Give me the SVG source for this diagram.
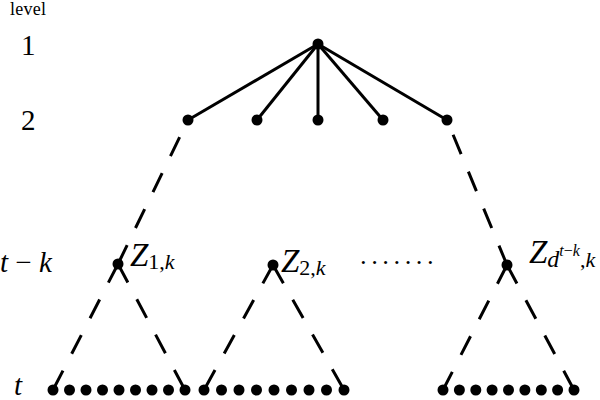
<svg xmlns="http://www.w3.org/2000/svg" width="600" height="400" viewBox="0 0 600 400">
<style>
.s{stroke:#000;stroke-width:3;fill:none}
.d{stroke:#000;stroke-width:3;fill:none;stroke-dasharray:21 19}
.n{fill:#000}
.t{font-family:"Liberation Serif","Times New Roman",serif;fill:#000}
.i{font-style:italic}
</style>
<rect width="600" height="400" fill="#fff"/>
<g id="labels" class="t">
<text x="10" y="15" font-size="18" textLength="36">level</text>
<text x="21" y="55" font-size="29">1</text>
<text x="21" y="130" font-size="29">2</text>
<text x="0" y="272" font-size="29"><tspan class="i">t</tspan> − <tspan class="i">k</tspan></text>
<text x="14" y="395" font-size="29" class="i">t</text>
<text x="359" y="271" font-size="26" letter-spacing="2.5">·······</text>
</g>
<g id="connectors">
<line class="s" x1="318" y1="44" x2="188" y2="120"/>
<line class="s" x1="318" y1="44" x2="257" y2="120"/>
<line class="s" x1="318" y1="44" x2="318" y2="120"/>
<line class="s" x1="318" y1="44" x2="383" y2="120"/>
<line class="s" x1="318" y1="44" x2="447" y2="120"/>
<line class="d" x1="118" y1="264" x2="188" y2="120"/>
<line class="d" x1="507" y1="265" x2="447" y2="120"/>
<line class="d" x1="118" y1="264" x2="53" y2="390"/>
<line class="d" x1="118" y1="264" x2="185" y2="390"/>
<line class="d" x1="273" y1="265" x2="204" y2="390"/>
<line class="d" x1="273" y1="265" x2="344" y2="390"/>
<line class="d" x1="507" y1="265" x2="443" y2="390"/>
<line class="d" x1="507" y1="265" x2="574" y2="390"/>
</g>
<g id="root"><circle class="n" cx="318" cy="44" r="5.5"/></g>
<g id="level2">
<circle class="n" cx="188" cy="120" r="5.5"/>
<circle class="n" cx="257" cy="120" r="5.5"/>
<circle class="n" cx="318" cy="120" r="5.5"/>
<circle class="n" cx="383" cy="120" r="5.5"/>
<circle class="n" cx="447" cy="120" r="5.5"/>
</g>
<g id="z1">
<circle class="n" cx="118" cy="264" r="5.5"/>
<text class="t" x="130" y="266" font-size="33"><tspan class="i">Z</tspan><tspan font-size="22" dy="3">1,</tspan><tspan font-size="22" class="i">k</tspan></text>
</g>
<g id="z2">
<circle class="n" cx="273" cy="265" r="5.5"/>
<text class="t" x="281" y="272" font-size="33"><tspan class="i">Z</tspan><tspan font-size="22" dy="3">2,</tspan><tspan font-size="22" class="i">k</tspan></text>
</g>
<g id="zd">
<circle class="n" cx="507" cy="265" r="5.5"/>
<text class="t" x="529" y="263" font-size="33"><tspan class="i">Z</tspan><tspan font-size="24" dy="4" class="i">d</tspan><tspan font-size="16" dy="-11" class="i">t</tspan><tspan font-size="16">−</tspan><tspan font-size="16" class="i">k</tspan><tspan font-size="22" dy="11">,</tspan><tspan font-size="22" class="i">k</tspan></text>
</g>
<g id="leaves1">
<circle class="n" cx="53" cy="390" r="5.5"/><circle class="n" cx="69.5" cy="390" r="5.5"/><circle class="n" cx="86" cy="390" r="5.5"/><circle class="n" cx="102.5" cy="390" r="5.5"/><circle class="n" cx="119" cy="390" r="5.5"/><circle class="n" cx="135.5" cy="390" r="5.5"/><circle class="n" cx="152" cy="390" r="5.5"/><circle class="n" cx="168.5" cy="390" r="5.5"/><circle class="n" cx="185" cy="390" r="5.5"/>
</g>
<g id="leaves2">
<circle class="n" cx="204" cy="390" r="5.5"/><circle class="n" cx="221.5" cy="390" r="5.5"/><circle class="n" cx="239" cy="390" r="5.5"/><circle class="n" cx="256.5" cy="390" r="5.5"/><circle class="n" cx="274" cy="390" r="5.5"/><circle class="n" cx="291.5" cy="390" r="5.5"/><circle class="n" cx="309" cy="390" r="5.5"/><circle class="n" cx="326.5" cy="390" r="5.5"/><circle class="n" cx="344" cy="390" r="5.5"/>
</g>
<g id="leaves3">
<circle class="n" cx="443" cy="390" r="5.5"/><circle class="n" cx="459.4" cy="390" r="5.5"/><circle class="n" cx="475.8" cy="390" r="5.5"/><circle class="n" cx="492.1" cy="390" r="5.5"/><circle class="n" cx="508.5" cy="390" r="5.5"/><circle class="n" cx="524.9" cy="390" r="5.5"/><circle class="n" cx="541.3" cy="390" r="5.5"/><circle class="n" cx="557.6" cy="390" r="5.5"/><circle class="n" cx="574" cy="390" r="5.5"/>
</g>
</svg>
